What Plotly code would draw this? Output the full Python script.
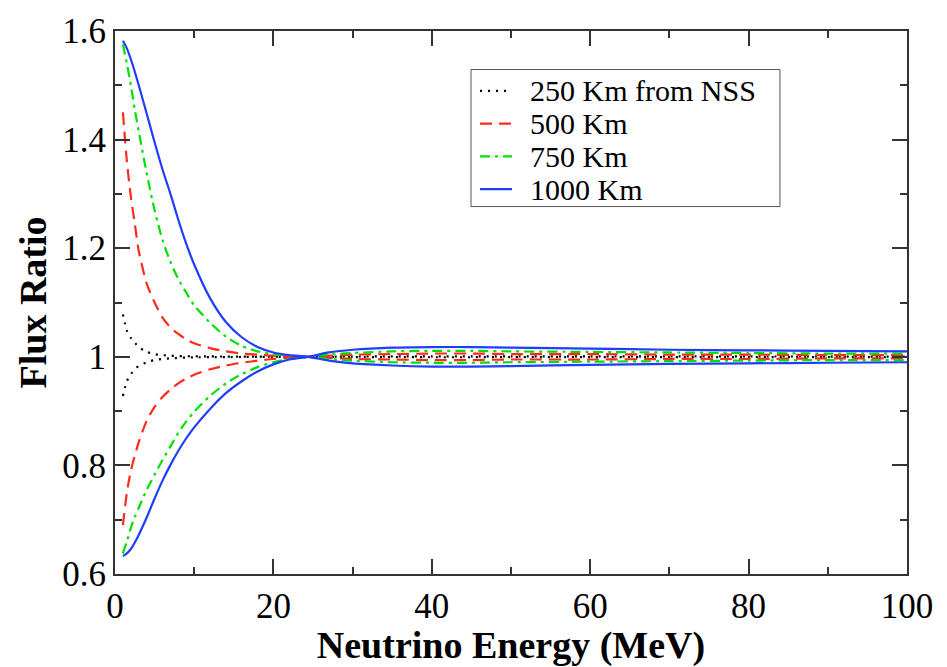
import plotly.graph_objects as go

# Neutrino energy grid (MeV)
energy = [1, 1.5, 2, 2.5, 3, 4, 5, 6, 7, 8, 9, 10, 12, 14, 16, 18, 20, 22, 24.4,
          27, 30, 35, 40, 45, 50, 60, 70, 80, 90, 100]

# 250 Km from NSS
r250_hi = [1.078, 1.048, 1.035, 1.026, 1.018, 1.009, 1.005, 1.003, 1.002, 1.0015, 1.001, 1.001,
           1.0007, 1.0005, 1.0003, 1.0002, 1.0001, 1.0, 1.0,
           0.9997, 0.9995, 0.9993, 0.9992, 0.9992, 0.9993, 0.9993, 0.9994, 0.9994, 0.9995, 0.9995]
r250_lo = [0.928, 0.955, 0.968, 0.977, 0.983, 0.990, 0.994, 0.996, 0.997, 0.998, 0.9985, 0.999,
           0.9993, 0.9995, 0.9997, 0.9998, 0.9999, 1.0, 1.0,
           1.0003, 1.0005, 1.0007, 1.0008, 1.0008, 1.0007, 1.0007, 1.0006, 1.0006, 1.0005, 1.0005]

# 500 Km
r500_hi = [1.45, 1.36, 1.295, 1.245, 1.195, 1.135, 1.100, 1.072, 1.054, 1.042, 1.032, 1.025,
           1.016, 1.010, 1.006, 1.004, 1.002, 1.001, 1.0,
           0.998, 0.996, 0.995, 0.994, 0.994, 0.995, 0.995, 0.996, 0.996, 0.997, 0.997]
r500_lo = [0.69, 0.75, 0.79, 0.818, 0.843, 0.882, 0.908, 0.926, 0.940, 0.951, 0.960, 0.967,
           0.977, 0.984, 0.989, 0.993, 0.996, 0.998, 1.0,
           1.002, 1.004, 1.005, 1.006, 1.006, 1.005, 1.005, 1.004, 1.004, 1.003, 1.003]

# 750 Km
r750_hi = [1.575, 1.54, 1.50, 1.455, 1.415, 1.338, 1.27, 1.215, 1.175, 1.143, 1.118, 1.095,
           1.063, 1.037, 1.020, 1.010, 1.005, 1.002, 1.0,
           0.996, 0.993, 0.990, 0.989, 0.989, 0.990, 0.991, 0.992, 0.993, 0.994, 0.994]
r750_lo = [0.638, 0.66, 0.685, 0.705, 0.722, 0.755, 0.783, 0.810, 0.835, 0.860, 0.881, 0.899,
           0.928, 0.951, 0.968, 0.981, 0.990, 0.996, 1.0,
           1.004, 1.007, 1.010, 1.011, 1.011, 1.010, 1.009, 1.008, 1.007, 1.006, 1.006]

# 1000 Km
r1000_hi = [1.582, 1.568, 1.548, 1.525, 1.50, 1.448, 1.395, 1.345, 1.30, 1.252, 1.208, 1.170,
            1.108, 1.064, 1.036, 1.018, 1.008, 1.003, 1.0,
            0.993, 0.988, 0.984, 0.982, 0.982, 0.983, 0.985, 0.987, 0.988, 0.989, 0.990]
r1000_lo = [0.633, 0.638, 0.646, 0.658, 0.672, 0.704, 0.739, 0.772, 0.801, 0.827, 0.850, 0.870,
            0.904, 0.933, 0.955, 0.973, 0.986, 0.995, 1.0,
            1.008, 1.013, 1.017, 1.018, 1.018, 1.017, 1.015, 1.013, 1.012, 1.011, 1.010]

series_names = ["250 Km from NSS", "500 Km", "750 Km", "1000 Km"]
series_hi = [r250_hi, r500_hi, r750_hi, r1000_hi]
series_lo = [r250_lo, r500_lo, r750_lo, r1000_lo]
colors = ["#000000", "#ff2a1a", "#00e000", "#1f3dff"]
dashes = ["2px,6px", "12px,7px", "10px,5px,3px,5px", "solid"]

y_ticks = [0.6, 0.8, 1.0, 1.2, 1.4, 1.6]
y_ticktext = ["0.6", "0.8", "1", "1.2", "1.4", "1.6"]
x_ticks = [0, 20, 40, 60, 80, 100]

FONT = "Liberation Serif"

fig = go.Figure()
for name, hi, lo, c, d in zip(series_names, series_hi, series_lo, colors, dashes):
    for ys in (hi, lo):
        fig.add_trace(go.Scatter(
            x=energy, y=ys, mode="lines", name=name, legendgroup=name,
            showlegend=False,
            line=dict(color=c, width=2.2, dash=d, shape="spline", smoothing=0.7),
        ))

# Compact Grace-style legend box in paper coordinates
leg_x0, leg_x1, leg_y0, leg_y1 = 0.4495, 0.8396, 0.6767, 0.929
row_y = [0.8899, 0.8295, 0.7691, 0.7087]
fig.add_shape(type="rect", xref="paper", yref="paper",
              x0=leg_x0, x1=leg_x1, y0=leg_y0, y1=leg_y1,
              line=dict(color="#555555", width=1), fillcolor="white", layer="above")
for name, c, d, yy in zip(series_names, colors, dashes, row_y):
    fig.add_shape(type="line", xref="paper", yref="paper",
                  x0=0.4609, x1=0.5013, y0=yy, y1=yy,
                  line=dict(color=c, width=2.2, dash=d), layer="above")
    fig.add_annotation(xref="paper", yref="paper", x=0.5215, y=yy,
                       xanchor="left", yanchor="middle", text=name, showarrow=False,
                       font=dict(family=FONT, size=30, color="black"))

axis_common = dict(
    showgrid=False, zeroline=False, showline=True, linecolor="#333333", linewidth=2,
    mirror="allticks", ticks="inside", ticklen=15, tickwidth=1.5, tickcolor="#333333",
    tickfont=dict(family=FONT, size=35, color="black"),
)

fig.update_xaxes(
    range=[0, 100], tickvals=x_ticks,
    minor=dict(dtick=10, ticks="inside", ticklen=7, tickwidth=1.5, tickcolor="#333333"),
    title=dict(text="<b>Neutrino Energy (MeV)</b>", font=dict(family=FONT, size=38, color="black"),
               standoff=2),
    **axis_common,
)
fig.update_yaxes(
    range=[0.6, 1.6], tickvals=y_ticks, ticktext=y_ticktext,
    minor=dict(dtick=0.1, ticks="inside", ticklen=7, tickwidth=1.5, tickcolor="#333333"),
    title=dict(text="<b>Flux Ratio</b>", font=dict(family=FONT, size=38, color="black"),
               standoff=4),
    **axis_common,
)

fig.update_layout(
    width=947, height=667,
    margin=dict(l=115, r=40, t=22, b=82),
    paper_bgcolor="white", plot_bgcolor="white",
    showlegend=False,
)

fig.write_html("out.html")
